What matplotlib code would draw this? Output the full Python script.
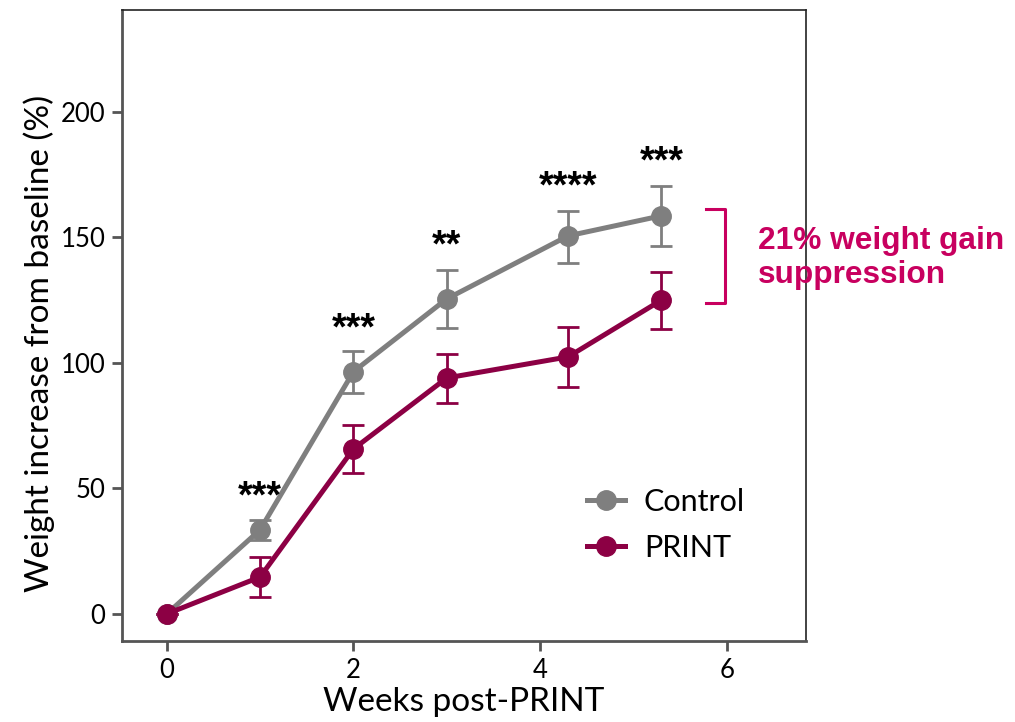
import matplotlib
matplotlib.use("Agg")
import matplotlib.pyplot as plt
import numpy as np

weeks = [0, 1, 2, 3, 4.3, 5.3]
control_mean = [0, 33.5, 96.5, 125.5, 150.6, 158.6]
control_upper = [0, 37.5, 104.8, 137.0, 160.5, 170.5]
control_lower = [0, 29.5, 88.0, 114.0, 140.0, 146.6]
print_mean = [0, 14.7, 65.7, 94.0, 102.4, 125.0]
print_upper = [0, 22.7, 75.3, 103.6, 114.3, 136.3]
print_lower = [0, 6.8, 56.2, 84.0, 90.4, 113.5]
sig_labels = ["***", "***", "**", "****", "***"]
sig_y = [46.5, 113.5, 146.5, 170, 180]
xticks = [0, 2, 4, 6]
yticks = [0, 50, 100, 150, 200]

plt.rcParams['font.family'] = ['Lato', 'DejaVu Sans']

fig = plt.figure(figsize=(10.15, 7.22), dpi=100)
ax = fig.add_axes([122/1015, (722-641)/722, (806-122)/1015, (641-10)/722])

c_gray = '#7f7f7f'
c_print = '#8c0044'
c_annot = '#c8005f'

def plot_series(x, m, up, lo, color, label):
    m = np.array(m); up = np.array(up); lo = np.array(lo)
    ax.errorbar(x, m, yerr=[m - lo, up - m], fmt='none', ecolor=color,
                elinewidth=2.0, capsize=8, capthick=2.0, zorder=2)
    ax.plot(x, m, '-o', color=color, lw=3.6, ms=14, label=label, zorder=3)

plot_series(weeks, control_mean, control_upper, control_lower, c_gray, 'Control')
plot_series(weeks, print_mean, print_upper, print_lower, c_print, 'PRINT')

for xv, lab, yv in zip(weeks[1:], sig_labels, sig_y):
    ax.text(xv, yv, lab, ha='center', va='center', fontsize=27,
            fontweight='bold', family='Liberation Sans', color='black')

ax.set_xlim(-0.48, 6.85)
ax.set_ylim(-10.8, 240.6)
ax.set_xticks(xticks)
ax.set_yticks(yticks)
ax.tick_params(axis='both', labelsize=18.5, length=7, width=2, color='#555555',
               labelcolor='black', pad=5)
for s in ['left', 'bottom']:
    ax.spines[s].set_color('#555555')
    ax.spines[s].set_linewidth(2)
for s in ['top', 'right']:
    ax.spines[s].set_color('#222222')
    ax.spines[s].set_linewidth(1.2)

ax.set_xlabel('Weeks post-PRINT', fontsize=24, labelpad=3)
ax.set_ylabel('Weight increase from baseline (%)', fontsize=24, labelpad=4)
ax.yaxis.label.set_y(0.472)

leg = ax.legend(loc='center left', bbox_to_anchor=(0.680, 0.184), frameon=False,
                fontsize=22, handlelength=1.24, handletextpad=0.62, labelspacing=0.57,
                borderpad=0, borderaxespad=0, markerscale=1.0)

tr = fig.transFigure
def fx(px): return px / 1015
def fy(py): return 1 - py / 722
fig.add_artist(plt.Line2D([fx(706), fx(725), fx(725), fx(706)],
                          [fy(209), fy(209), fy(303), fy(303)],
                          color=c_annot, lw=2.2, transform=tr))
fig.text(fx(758), fy(258), '21% weight gain\nsuppression', color=c_annot,
         fontsize=22.8, fontweight='bold', family='Liberation Sans',
         ha='left', va='center', linespacing=1.2)

fig.savefig('out.png', dpi=100)
